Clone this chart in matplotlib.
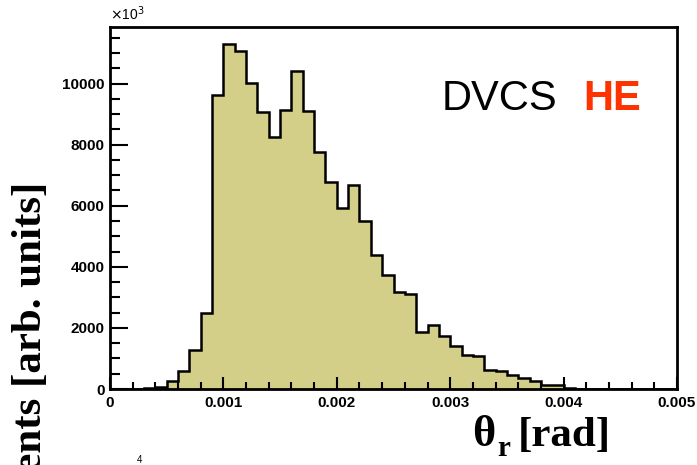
import numpy as np
import matplotlib
matplotlib.use('Agg')
import matplotlib.pyplot as plt
from matplotlib.ticker import MultipleLocator

# histogram of theta_r, 50 bins from 0 to 0.005 rad
bin_edges = np.linspace(0, 0.005, 51)
counts = [0, 0, 10, 30, 56, 262, 600, 1290, 2475, 9630,
          11289, 11072, 10033, 9082, 8252, 9125, 10416, 9105, 7770, 6764,
          5925, 6666, 5485, 4393, 3748, 3190, 3105, 1879, 2098, 1738,
          1420, 1125, 1072, 633, 580, 469, 361, 272, 141, 141,
          20, 15, 10, 5, 0, 0, 0, 0, 0, 0]
y_ticks = [0, 2000, 4000, 6000, 8000, 10000]
x_ticks = [0, 0.001, 0.002, 0.003, 0.004, 0.005]
x_ticklabels = ['0', '0.001', '0.002', '0.003', '0.004', '0.005']

W, H = 697, 465
fig = plt.figure(figsize=(W / 100, H / 100), dpi=100)
ax = fig.add_axes([110 / W, 1 - 389 / H, 567 / W, 362 / H])

ax.stairs(counts, bin_edges, fill=True, color='#d4cf88', lw=0)
ax.stairs(counts, bin_edges, color='black', lw=1.8)

ax.set_xlim(0, 0.005)
ax.set_ylim(0, 1.05 * max(counts))
ax.set_xticks(x_ticks)
ax.set_xticklabels(x_ticklabels)
ax.set_yticks(y_ticks)
ax.xaxis.set_minor_locator(MultipleLocator(0.0002))
ax.yaxis.set_minor_locator(MultipleLocator(500))
ax.tick_params(which='both', direction='in', width=1.5, top=False, right=False,
               labelsize=11)
ax.tick_params(which='major', axis='y', length=13)
ax.tick_params(which='minor', axis='y', length=7)
ax.tick_params(which='major', axis='x', length=9)
ax.tick_params(which='minor', axis='x', length=5)
ax.tick_params(axis='x', pad=5)
ax.tick_params(axis='y', pad=4)
for lab in ax.get_xticklabels() + ax.get_yticklabels():
    lab.set_fontfamily('Liberation Sans')
    lab.set_fontweight('bold')
for sp in ax.spines.values():
    sp.set_linewidth(2)

fig.text(110 / W, 1 - 20 / H, r'$\times$10$^3$', fontsize=10, family='Liberation Sans',
         ha='left', va='baseline')

ax.text(0.585, 0.771, 'DVCS', transform=ax.transAxes, fontsize=30,
        family='Liberation Sans', ha='left', va='baseline')
ax.text(0.835, 0.771, 'HE', transform=ax.transAxes, fontsize=30,
        family='Liberation Sans', weight='bold', color='#ff3300',
        ha='left', va='baseline')

# axis titles, large serif bold, partly cut by the canvas edge
fig.text(50 / W, 1 - 182 / H, 'Events [arb. units]', rotation=90,
         fontsize=31, family='Liberation Serif', weight='bold',
         ha='right', va='top')
fig.text(472 / W, 1 - 446 / H, 'θ', fontsize=32, family='Liberation Serif',
         weight='bold', ha='left', va='baseline')
fig.text(497 / W, 1 - 456 / H, 'r', fontsize=21, family='Liberation Serif',
         weight='bold', ha='left', va='baseline')
fig.text(518 / W, 1 - 446 / H, '[rad]', fontsize=31, family='Liberation Serif',
         weight='bold', ha='left', va='baseline')
fig.text(137 / W, 1 - 463 / H, '4', fontsize=7, family='Liberation Sans',
         ha='left', va='baseline')

fig.savefig('out.png', dpi=100)
